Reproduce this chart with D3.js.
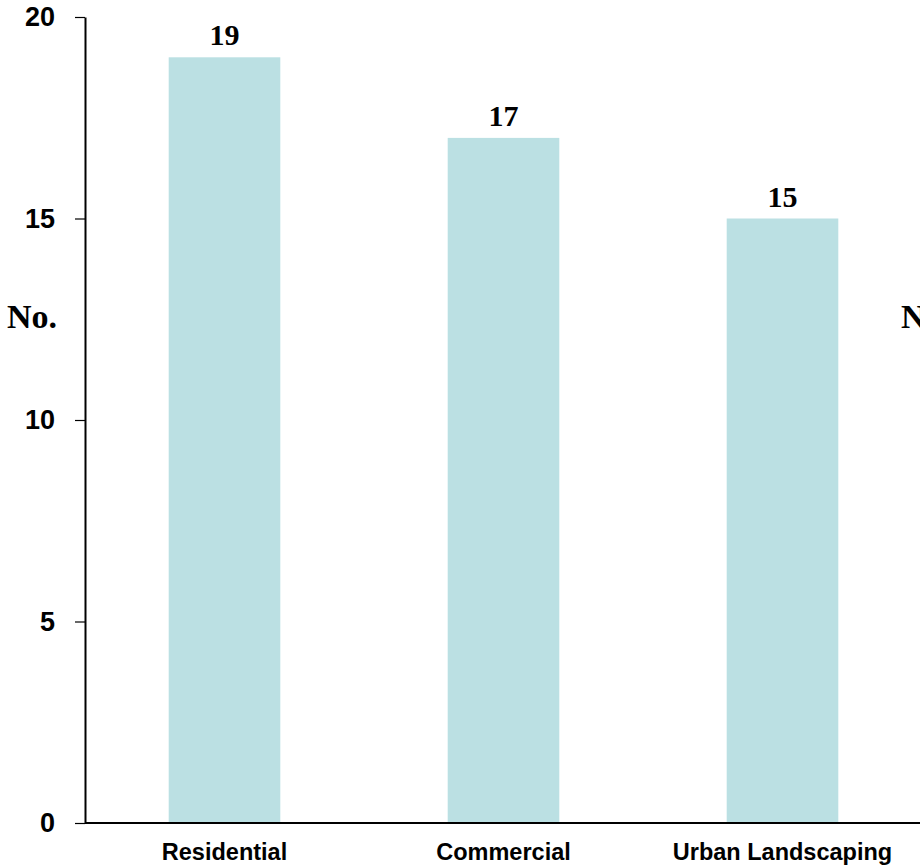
<!DOCTYPE html>
<html>
<head>
<meta charset="utf-8">
<script src="https://cdn.jsdelivr.net/npm/d3@7"></script>
<style>
  html, body { margin: 0; padding: 0; background: #fff; }
  svg { display: block; }
</style>
</head>
<body>
<svg id="chart" width="920" height="866"></svg>
<script>
const categories = ["Residential", "Commercial", "Urban Landscaping"];
const values = [19, 17, 15];
const yTicks = [0, 5, 10, 15, 20];
const axisTitle = "No.";

const svg = d3.select("#chart");
const W = 920, H = 866;
const x0 = 85, yTop = 17, yBase = 823;

const y = d3.scaleLinear().domain([0, 20]).range([yBase, yTop]);
const x = d3.scaleBand().domain(categories)
  .range([x0, x0 + 279 * 3])
  .paddingInner(0.6).paddingOuter(0.3);

// bars
svg.append("g").selectAll("rect").data(values).join("rect")
  .attr("x", (d, i) => x(categories[i]))
  .attr("y", d => y(d))
  .attr("width", x.bandwidth())
  .attr("height", d => yBase - y(d))
  .attr("fill", "#BBE0E3");

// value labels
svg.append("g").selectAll("text").data(values).join("text")
  .attr("x", (d, i) => x(categories[i]) + x.bandwidth() / 2)
  .attr("y", d => y(d) - 12)
  .attr("text-anchor", "middle")
  .attr("font-family", "'Liberation Serif', 'Times New Roman', serif")
  .attr("font-weight", "bold")
  .attr("font-size", 30)
  .attr("fill", "#000")
  .text(d => d);

// y axis
const yAxis = svg.append("g")
  .attr("transform", `translate(${x0},0)`)
  .call(d3.axisLeft(y).tickValues(yTicks).tickSize(10).tickSizeOuter(0).tickPadding(20));
yAxis.select(".domain").attr("stroke", "#000").attr("stroke-width", 2);
yAxis.selectAll(".tick line").attr("stroke", "#000").attr("stroke-width", 1.2);
yAxis.selectAll(".tick text")
  .attr("font-family", "'Liberation Sans', Arial, Helvetica, sans-serif")
  .attr("font-weight", "bold")
  .attr("font-size", 27)
  .attr("fill", "#000");

// x axis
const xAxis = svg.append("g")
  .attr("transform", `translate(0,${yBase})`)
  .call(d3.axisBottom(x).tickSize(0).tickPadding(20).tickSizeOuter(0));
xAxis.select(".domain").attr("d", `M${x0},0H${W}`).attr("stroke", "#000").attr("stroke-width", 2);
xAxis.selectAll(".tick text")
  .attr("font-family", "'Liberation Sans', Arial, Helvetica, sans-serif")
  .attr("font-weight", "bold")
  .attr("font-size", 23.5)
  .attr("fill", "#000");

// axis titles (left and cut-off right)
[7, 901].forEach(px => {
  svg.append("text")
    .attr("x", px)
    .attr("y", 328)
    .attr("font-family", "'Liberation Serif', 'Times New Roman', serif")
    .attr("font-weight", "bold")
    .attr("font-size", 34)
    .attr("fill", "#000")
    .text(axisTitle);
});
</script>
</body>
</html>
